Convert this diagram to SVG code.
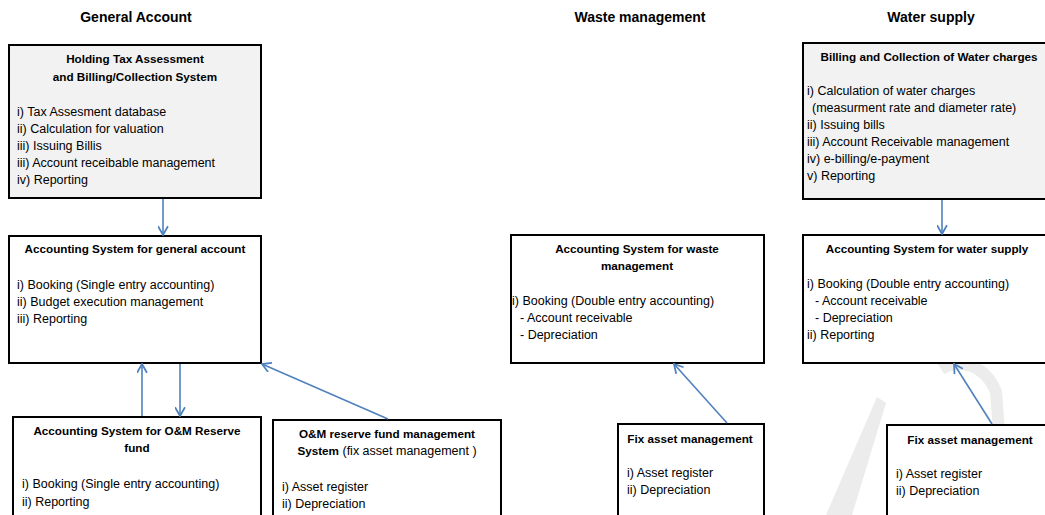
<svg xmlns="http://www.w3.org/2000/svg" width="1045" height="515" viewBox="0 0 1045 515">
<style>
.hdr{font-family:"Liberation Sans",Arial,sans-serif;font-size:14px;font-weight:bold;fill:#000;text-anchor:middle}
.box{fill:#fff;stroke:#000;stroke-width:2}
.gbox{fill:#f2f2f2;stroke:#000;stroke-width:2}
.t{font-family:"Liberation Sans",Arial,sans-serif;font-size:12.5px;fill:#000}
.b{font-weight:bold;font-size:11.7px}
.c{text-anchor:middle}
.con{stroke:#4f81bd;stroke-width:1.6;fill:none}
.wm{fill:#ececec;stroke:none}
</style>
<defs>
<marker id="ah" viewBox="0 0 10 10" refX="9" refY="5" markerWidth="11" markerHeight="11" markerUnits="userSpaceOnUse" orient="auto">
<path d="M1,0.5 L9,5 L1,9.5" fill="none" stroke="#4f81bd" stroke-width="1.6"/>
</marker>
</defs>
<rect width="1045" height="515" fill="#fff"/>
<g id="watermark">
<polygon class="wm" points="877,397 886,403 852,515 826,515"/>
<path d="M941,369 C958,358 985,364 996,392 L999,430" fill="none" stroke="#ececec" stroke-width="12"/>
</g>
<g id="headers">
<text class="hdr" x="136" y="22">General Account</text>
<text class="hdr" x="640" y="22">Waste management</text>
<text class="hdr" x="931" y="22">Water supply</text>
</g>
<g id="holding-tax">
<rect class="gbox" x="9" y="45" width="252" height="153"/>
<text class="t b c" x="135" y="63">Holding Tax Assessment</text>
<text class="t b c" x="135" y="81">and Billing/Collection System</text>
<text class="t" x="17" y="116">i) Tax Assesment database</text>
<text class="t" x="17" y="133">ii) Calculation  for valuation</text>
<text class="t" x="17" y="150">iii) Issuing Billis</text>
<text class="t" x="17" y="167">iii) Account receibable management</text>
<text class="t" x="17" y="184">iv) Reporting</text>
</g>
<g id="acc-general">
<rect class="box" x="9" y="236" width="252" height="127"/>
<text class="t b c" x="135" y="253">Accounting System for general account</text>
<text class="t" x="17" y="289">i) Booking (Single entry accounting)</text>
<text class="t" x="17" y="306">ii) Budget execution management</text>
<text class="t" x="17" y="323">iii) Reporting</text>
</g>
<g id="acc-om">
<rect class="box" x="13" y="417" width="248" height="110"/>
<text class="t b c" x="137" y="435">Accounting System for O&amp;M Reserve</text>
<text class="t b c" x="137" y="452">fund</text>
<text class="t" x="22" y="488">i) Booking (Single entry accounting)</text>
<text class="t" x="22" y="506">ii) Reporting</text>
</g>
<g id="om-fund">
<rect class="box" x="273" y="420" width="228" height="110"/>
<text class="t b c" x="387" y="438">O&amp;M reserve fund management</text>
<text class="t c" x="387" y="455"><tspan class="b">System</tspan> (fix asset management )</text>
<text class="t" x="282" y="491">i) Asset register</text>
<text class="t" x="282" y="508">ii) Depreciation</text>
</g>
<g id="acc-waste">
<rect class="box" x="511" y="235" width="253" height="128"/>
<text class="t b c" x="637" y="253">Accounting System for waste</text>
<text class="t b c" x="637" y="270">management</text>
<text class="t" x="512" y="305">i) Booking (Double entry accounting)</text>
<text class="t" x="520" y="322">- Account receivable</text>
<text class="t" x="520" y="339">- Depreciation</text>
</g>
<g id="fix-waste">
<rect class="box" x="618" y="424" width="146" height="106"/>
<text class="t b c" x="690" y="443">Fix asset management</text>
<text class="t" x="627" y="477">i) Asset register</text>
<text class="t" x="627" y="494">ii) Depreciation</text>
</g>
<g id="billing-water">
<rect class="gbox" x="803" y="43" width="250" height="156"/>
<text class="t b c" x="929" y="61">Billing and Collection of Water charges</text>
<text class="t" x="807" y="95">i) Calculation  of  water charges</text>
<text class="t" x="812" y="112">(measurment rate and diameter rate)</text>
<text class="t" x="807" y="129">ii) Issuing bills</text>
<text class="t" x="807" y="146">iii) Account Receivable management</text>
<text class="t" x="807" y="163">iv) e-billing/e-payment</text>
<text class="t" x="807" y="180">v) Reporting</text>
</g>
<g id="acc-water">
<rect class="box" x="803" y="235" width="250" height="128"/>
<text class="t b c" x="927" y="253">Accounting System for water supply</text>
<text class="t" x="807" y="288">i) Booking (Double entry accounting)</text>
<text class="t" x="815" y="305">- Account receivable</text>
<text class="t" x="815" y="322">- Depreciation</text>
<text class="t" x="807" y="339">ii) Reporting</text>
</g>
<g id="fix-water">
<rect class="box" x="887" y="425" width="166" height="105"/>
<text class="t b c" x="970" y="444">Fix asset management</text>
<text class="t" x="896" y="478">i) Asset register</text>
<text class="t" x="896" y="495">ii) Depreciation</text>
</g>
<g id="connectors">
<line class="con" x1="163" y1="199" x2="163" y2="235" marker-end="url(#ah)"/>
<line class="con" x1="142" y1="416" x2="142" y2="364" marker-end="url(#ah)"/>
<line class="con" x1="180" y1="364" x2="180" y2="416" marker-end="url(#ah)"/>
<line class="con" x1="388" y1="419" x2="262" y2="364" marker-end="url(#ah)"/>
<line class="con" x1="727" y1="423" x2="674" y2="364" marker-end="url(#ah)"/>
<line class="con" x1="942" y1="200" x2="942" y2="234" marker-end="url(#ah)"/>
<line class="con" x1="992" y1="424" x2="954" y2="364" marker-end="url(#ah)"/>
</g>
</svg>
